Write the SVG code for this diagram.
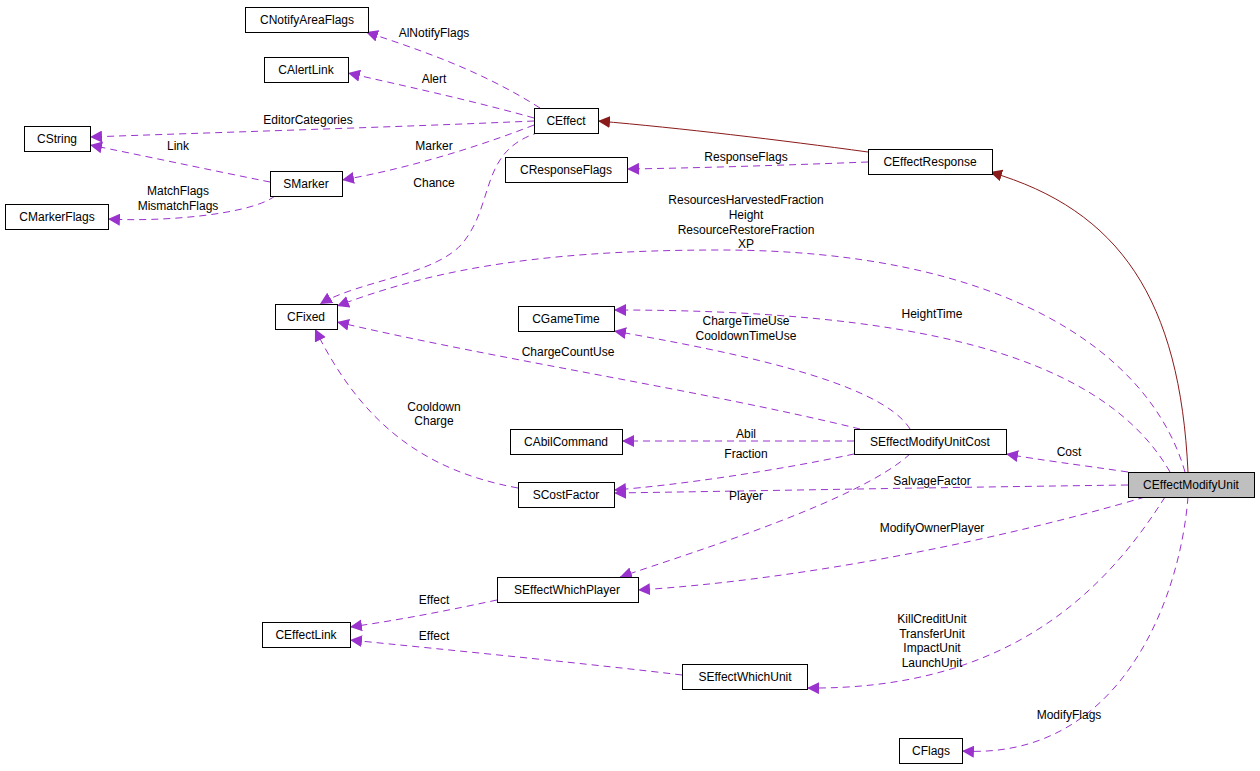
<svg xmlns="http://www.w3.org/2000/svg" width="1260" height="771" viewBox="0 0 1260 771">
<style>
text{font-family:"Liberation Sans",Arial,sans-serif;font-size:12px;fill:#000}
.n rect{fill:#fff;stroke:#000;stroke-width:1}
.n text{text-anchor:middle}
.e{fill:none;stroke:#9a32cd;stroke-dasharray:7,5}
.r{fill:none;stroke:#8b1a1a}
.l{text-anchor:middle}
</style>
<defs>
<marker id="p" viewBox="0 0 10 10" refX="10" refY="5" markerWidth="12" markerHeight="12" markerUnits="userSpaceOnUse" orient="auto"><path d="M0,0L10,5L0,10z" fill="#9a32cd"/></marker>
<marker id="d" viewBox="0 0 10 10" refX="10" refY="5" markerWidth="12" markerHeight="12" markerUnits="userSpaceOnUse" orient="auto"><path d="M0,0L10,5L0,10z" fill="#8b1a1a"/></marker>
</defs>
<rect width="1260" height="771" fill="#fff"/>
<g id="edges">
<path class="e" marker-end="url(#p)" d="M540,108 C480,70 420,50 366,32"/>
<path class="e" marker-end="url(#p)" d="M534,118 C470,100 400,85 348,73"/>
<path class="e" marker-end="url(#p)" d="M534,121 C400,127 200,133 90,137"/>
<path class="e" marker-end="url(#p)" d="M270,182 C210,170 140,155 90,145"/>
<path class="e" marker-end="url(#p)" d="M534,125 C470,150 400,170 342,180"/>
<path class="e" marker-end="url(#p)" d="M275,196 C250,215 160,222 108,219"/>
<path class="e" marker-end="url(#p)" d="M540,132 C480,150 495,200 465,240 C440,275 360,280 320,304"/>
<path class="r" marker-end="url(#d)" d="M868,152 C780,140 680,128 598,121"/>
<path class="r" marker-end="url(#d)" d="M1188,472 C1180,300 1120,210 990,172"/>
<path class="e" marker-end="url(#p)" d="M868,162 C790,165 700,168 627,169"/>
<path class="e" marker-end="url(#p)" d="M1185,472 C1150,350 1000,250 720,250 C520,250 420,275 337,306"/>
<path class="e" marker-end="url(#p)" d="M1170,472 C1100,350 900,310 614,310"/>
<path class="e" marker-end="url(#p)" d="M910,429 C880,380 720,350 614,331"/>
<path class="e" marker-end="url(#p)" d="M860,429 C700,390 500,360 337,322"/>
<path class="e" marker-end="url(#p)" d="M518,488 C420,470 360,420 315,329"/>
<path class="e" marker-end="url(#p)" d="M854,441 L622,441"/>
<path class="e" marker-end="url(#p)" d="M854,454 C780,470 680,485 614,490"/>
<path class="e" marker-end="url(#p)" d="M1128,472 C1080,465 1040,460 1006,454"/>
<path class="e" marker-end="url(#p)" d="M1128,485 C900,488 750,491 614,493"/>
<path class="e" marker-end="url(#p)" d="M910,454 C860,500 700,550 620,577"/>
<path class="e" marker-end="url(#p)" d="M1145,497 C1000,540 800,580 638,590"/>
<path class="e" marker-end="url(#p)" d="M497,600 C450,610 400,620 350,627"/>
<path class="e" marker-end="url(#p)" d="M682,675 C600,665 450,650 350,640"/>
<path class="e" marker-end="url(#p)" d="M1165,497 C1100,600 1000,690 807,688"/>
<path class="e" marker-end="url(#p)" d="M1188,497 C1180,600 1120,760 962,751"/>
</g>
<g id="labels">
<text class="l" x="434" y="37">AlNotifyFlags</text>
<text class="l" x="434" y="83">Alert</text>
<text class="l" x="308" y="124">EditorCategories</text>
<text class="l" x="178" y="150">Link</text>
<text class="l" x="434" y="150">Marker</text>
<text class="l" x="178" y="195">MatchFlags</text>
<text class="l" x="178" y="210">MismatchFlags</text>
<text class="l" x="434" y="187">Chance</text>
<text class="l" x="746" y="161">ResponseFlags</text>
<text class="l" x="746" y="204">ResourcesHarvestedFraction</text>
<text class="l" x="746" y="219">Height</text>
<text class="l" x="746" y="234">ResourceRestoreFraction</text>
<text class="l" x="746" y="248">XP</text>
<text class="l" x="932" y="318">HeightTime</text>
<text class="l" x="746" y="325">ChargeTimeUse</text>
<text class="l" x="746" y="340">CooldownTimeUse</text>
<text class="l" x="568" y="356">ChargeCountUse</text>
<text class="l" x="434" y="411">Cooldown</text>
<text class="l" x="434" y="425">Charge</text>
<text class="l" x="746" y="438">Abil</text>
<text class="l" x="746" y="458">Fraction</text>
<text class="l" x="1069" y="456">Cost</text>
<text class="l" x="932" y="485">SalvageFactor</text>
<text class="l" x="746" y="500">Player</text>
<text class="l" x="932" y="532">ModifyOwnerPlayer</text>
<text class="l" x="434" y="604">Effect</text>
<text class="l" x="434" y="640">Effect</text>
<text class="l" x="932" y="623">KillCreditUnit</text>
<text class="l" x="932" y="638">TransferUnit</text>
<text class="l" x="932" y="652">ImpactUnit</text>
<text class="l" x="932" y="667">LaunchUnit</text>
<text class="l" x="1069" y="719">ModifyFlags</text>
</g>
<g id="CNotifyAreaFlags" class="n"><rect x="245.5" y="7.5" width="123" height="25"/><text x="307" y="24">CNotifyAreaFlags</text></g>
<g id="CAlertLink" class="n"><rect x="264.5" y="57.5" width="84" height="25"/><text x="306" y="74">CAlertLink</text></g>
<g id="CString" class="n"><rect x="24.5" y="126.5" width="66" height="25"/><text x="57" y="143">CString</text></g>
<g id="CEffect" class="n"><rect x="534.5" y="108.5" width="64" height="25"/><text x="566" y="125">CEffect</text></g>
<g id="CResponseFlags" class="n"><rect x="505.5" y="157.5" width="122" height="25"/><text x="566" y="174">CResponseFlags</text></g>
<g id="CEffectResponse" class="n"><rect x="868.5" y="149.5" width="124" height="25"/><text x="930" y="166">CEffectResponse</text></g>
<g id="SMarker" class="n"><rect x="270.5" y="171.5" width="72" height="25"/><text x="306" y="188">SMarker</text></g>
<g id="CMarkerFlags" class="n"><rect x="5.5" y="204.5" width="103" height="25"/><text x="57" y="221">CMarkerFlags</text></g>
<g id="CFixed" class="n"><rect x="275.5" y="304.5" width="62" height="25"/><text x="306" y="321">CFixed</text></g>
<g id="CGameTime" class="n"><rect x="518.5" y="306.5" width="96" height="25"/><text x="566" y="323">CGameTime</text></g>
<g id="CAbilCommand" class="n"><rect x="510.5" y="429.5" width="112" height="25"/><text x="566" y="446">CAbilCommand</text></g>
<g id="SEffectModifyUnitCost" class="n"><rect x="854.5" y="429.5" width="152" height="25"/><text x="930" y="446">SEffectModifyUnitCost</text></g>
<g id="SCostFactor" class="n"><rect x="518.5" y="482.5" width="96" height="25"/><text x="566" y="499">SCostFactor</text></g>
<g id="CEffectModifyUnit" class="n"><rect x="1128.5" y="472.5" width="126" height="25" style="fill:#bfbfbf"/><text x="1191" y="489">CEffectModifyUnit</text></g>
<g id="SEffectWhichPlayer" class="n"><rect x="497.5" y="577.5" width="141" height="25"/><text x="567" y="594">SEffectWhichPlayer</text></g>
<g id="CEffectLink" class="n"><rect x="262.5" y="622.5" width="88" height="25"/><text x="306" y="639">CEffectLink</text></g>
<g id="SEffectWhichUnit" class="n"><rect x="682.5" y="664.5" width="125" height="25"/><text x="745" y="681">SEffectWhichUnit</text></g>
<g id="CFlags" class="n"><rect x="899.5" y="738.5" width="63" height="25"/><text x="931" y="755">CFlags</text></g>
</svg>
